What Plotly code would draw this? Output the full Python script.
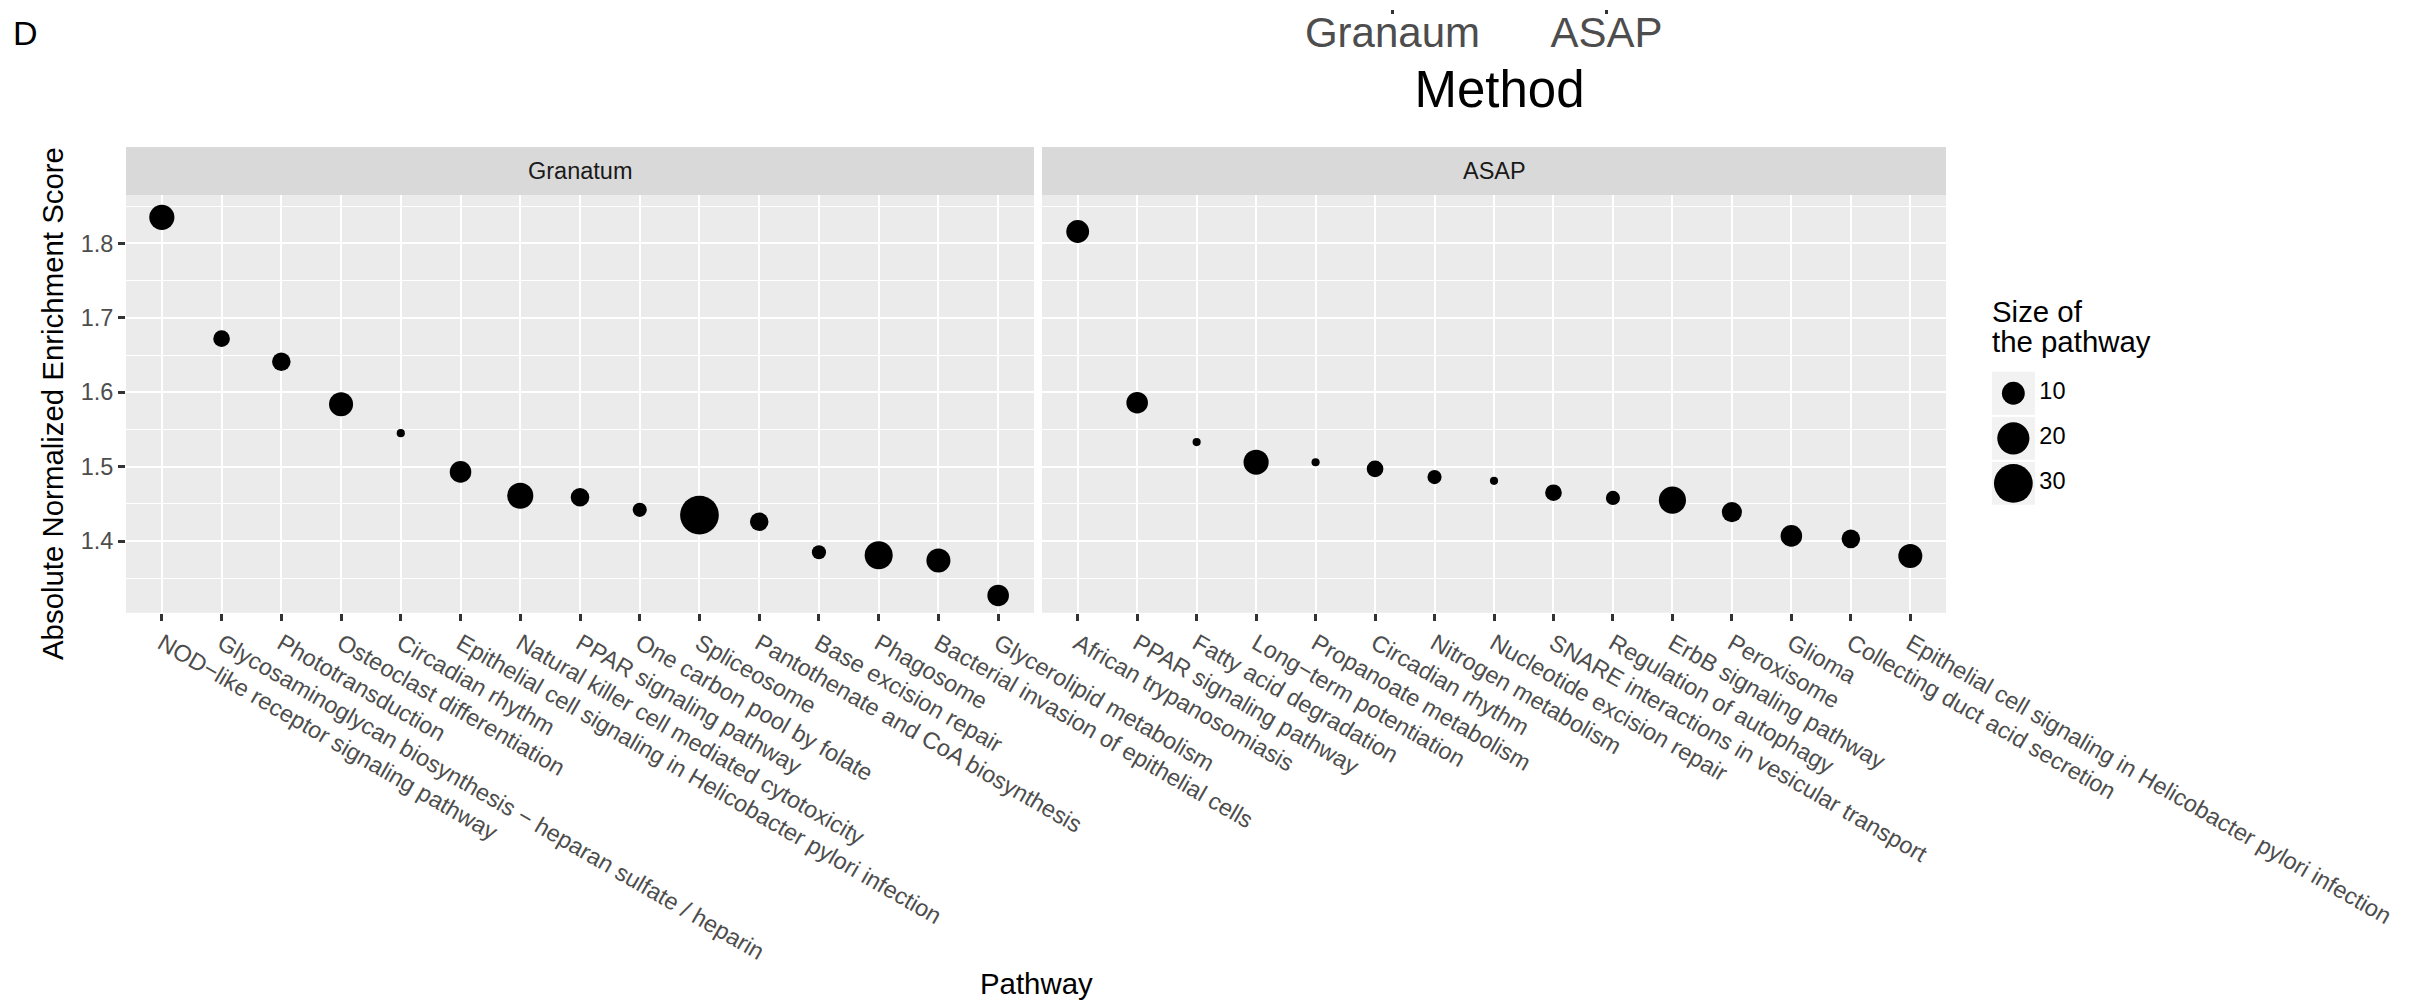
import math
import plotly.graph_objects as go

W, H = 2431, 1005
BODY = 8  # default page margin around the plot div
FW, FH = W - BODY, H - BODY

# ---------------- data ----------------
granatum_pathways = [
    "NOD\u2212like receptor signaling pathway",
    "Glycosaminoglycan biosynthesis \u2212 heparan sulfate / heparin",
    "Phototransduction",
    "Osteoclast differentiation",
    "Circadian rhythm",
    "Epithelial cell signaling in Helicobacter pylori infection",
    "Natural killer cell mediated cytotoxicity",
    "PPAR signaling pathway",
    "One carbon pool by folate",
    "Spliceosome",
    "Pantothenate and CoA biosynthesis",
    "Base excision repair",
    "Phagosome",
    "Bacterial invasion of epithelial cells",
    "Glycerolipid metabolism",
]
granatum_scores = [1.835, 1.672, 1.641, 1.584, 1.545, 1.493, 1.461, 1.459,
                   1.442, 1.435, 1.426, 1.385, 1.381, 1.374, 1.327]
granatum_sizes = [12, 6, 7, 11, 4, 9, 13, 7, 5, 30, 7, 5, 15, 11, 9]

asap_pathways = [
    "African trypanosomiasis",
    "PPAR signaling pathway ",
    "Fatty acid degradation",
    "Long\u2212term potentiation",
    "Propanoate metabolism",
    "Circadian rhythm ",
    "Nitrogen metabolism",
    "Nucleotide excision repair",
    "SNARE interactions in vesicular transport",
    "Regulation of autophagy",
    "ErbB signaling pathway",
    "Peroxisome",
    "Glioma",
    "Collecting duct acid secretion",
    "Epithelial cell signaling in Helicobacter pylori infection ",
]
asap_scores = [1.816, 1.586, 1.533, 1.506, 1.506, 1.497, 1.486, 1.481,
               1.465, 1.458, 1.455, 1.439, 1.407, 1.403, 1.380]
asap_sizes = [10, 9, 4, 12, 4, 6, 5, 4, 6, 5, 14, 8, 9, 7, 11]

panel_labels = ["Granatum", "ASAP"]
y_ticks = [1.4, 1.5, 1.6, 1.7, 1.8]
y_minor = [1.35, 1.45, 1.55, 1.65, 1.75, 1.85]
y_range = [1.3038, 1.865]
legend_breaks = [10, 20, 30]
method_labels = ["Granaum", "ASAP"]

# ------------- size scale (area-like, as in ggplot scale_size) -------------
all_sizes = granatum_sizes + asap_sizes
vmin, vmax = min(all_sizes), max(all_sizes)
PX_PER_PT = 2.15


def size_px(v):
    t = (v - vmin) / (vmax - vmin)
    t = min(max(t, 0.0), 1.0)
    s = 1 + 5 * math.sqrt(t)
    return PX_PER_PT * (s * 2.845 + 0.945)


def px(xp):
    return (xp - BODY) / FW


def py(yp):
    return 1 - (yp - BODY) / FH


FONT = "Liberation Sans, Arial, sans-serif"
TICK_C = "#4D4D4D"

panel_top, panel_bot = 195, 612.7
strip_top = 147
x1_dom = [px(126), px(1034)]
x2_dom = [px(1042), px(1946)]
y_dom = [py(panel_bot), py(panel_top)]
key_w = 43.3

fig = go.Figure()

mk = dict(color="black", opacity=1, line=dict(width=0))
fig.add_trace(go.Scatter(
    x=granatum_pathways, y=granatum_scores, mode="markers",
    marker=dict(mk, size=[size_px(v) for v in granatum_sizes]),
    xaxis="x", yaxis="y", showlegend=False, hoverinfo="x+y"))
fig.add_trace(go.Scatter(
    x=asap_pathways, y=asap_scores, mode="markers",
    marker=dict(mk, size=[size_px(v) for v in asap_sizes]),
    xaxis="x2", yaxis="y2", showlegend=False, hoverinfo="x+y"))

# Method axis remnant at the top
fig.add_trace(go.Scatter(
    x=method_labels, y=[0, 0], mode="markers", marker=dict(opacity=0),
    xaxis="x3", yaxis="y3", showlegend=False, hoverinfo="skip"))

# custom size legend
leg_idx = list(range(len(legend_breaks)))
fig.add_trace(go.Scatter(
    x=[0.5] * len(legend_breaks), y=leg_idx, mode="markers",
    marker=dict(mk, size=[size_px(v) for v in legend_breaks]),
    xaxis="x4", yaxis="y4", showlegend=False, hoverinfo="skip", cliponaxis=False))
fig.add_trace(go.Scatter(
    x=[1.1] * len(legend_breaks), y=leg_idx, mode="text",
    text=[str(v) for v in legend_breaks], textposition="middle right",
    textfont=dict(family=FONT, size=23.5, color="#000000"),
    xaxis="x4", yaxis="y4", showlegend=False, hoverinfo="skip", cliponaxis=False))

xcommon = dict(
    type="category", showgrid=True, gridcolor="white", gridwidth=2.3,
    ticks="outside", ticklen=7, tickwidth=2.5, tickcolor="#333333",
    tickangle=30, tickfont=dict(family=FONT, size=23.5, color=TICK_C),
    showline=False, zeroline=False, range=[-0.6, 14.6], automargin=False,
)
ycommon = dict(
    range=y_range, tickvals=y_ticks, ticktext=[f"{v:.1f}" for v in y_ticks],
    showgrid=True, gridcolor="white", gridwidth=2.3, zeroline=False,
    showline=False, domain=y_dom, automargin=False,
    minor=dict(tickvals=y_minor, showgrid=True, gridcolor="white",
               gridwidth=1.15, ticks=""),
)

fig.update_layout(
    template="none",
    width=FW, height=FH, autosize=False,
    margin=dict(l=0, r=0, t=0, b=0, pad=0),
    paper_bgcolor="white", plot_bgcolor="rgba(0,0,0,0)",
    font=dict(family=FONT, color="black"),
    xaxis=dict(xcommon, domain=x1_dom, anchor="y",
               categoryorder="array", categoryarray=granatum_pathways),
    xaxis2=dict(xcommon, domain=x2_dom, anchor="y2",
                categoryorder="array", categoryarray=asap_pathways),
    yaxis=dict(ycommon, anchor="x", ticks="outside", ticklen=7, tickwidth=2.5,
               tickcolor="#333333",
               tickfont=dict(family=FONT, size=23.5, color=TICK_C)),
    yaxis2=dict(ycommon, anchor="x2", showticklabels=False, ticks=""),
    xaxis3=dict(type="category", domain=[px(1264), px(1735)], anchor="y3",
                range=[-0.6, 1.6], showgrid=False, zeroline=False, showline=False,
                automargin=False,
                ticks="outside", ticklen=4, tickwidth=2.5, tickcolor="#333333",
                ticklabelstandoff=-17,
                tickfont=dict(family=FONT, size=42, color=TICK_C),
                title=dict(text="Method", font=dict(family=FONT, size=51, color="black"),
                           standoff=15)),
    yaxis3=dict(domain=[0.999, 1.0], visible=False, anchor="x3", range=[-1, 1]),
    xaxis4=dict(domain=[px(1991.7), px(1991.7 + 2 * key_w)], anchor="y4",
                range=[0, 2], visible=False),
    yaxis4=dict(domain=[py(506), py(370.7)], anchor="x4", range=[2.5, -0.5],
                visible=False),
)

shapes = []
for xr, yr in (("x", "y"), ("x2", "y2")):
    shapes.append(dict(type="rect", xref=f"{xr} domain", yref=f"{yr} domain",
                       x0=0, x1=1, y0=0, y1=1, fillcolor="#EBEBEB",
                       line=dict(width=0), layer="below"))
    shapes.append(dict(type="rect", xref=f"{xr} domain", yref="paper",
                       x0=0, x1=1, y0=py(panel_top), y1=py(strip_top),
                       fillcolor="#D9D9D9", line=dict(width=0), layer="below"))
for i in leg_idx:
    shapes.append(dict(type="rect", xref="x4", yref="y4", x0=0, x1=1,
                       y0=i - 0.475, y1=i + 0.475, fillcolor="#F2F2F2",
                       line=dict(width=0), layer="below"))
fig.update_layout(shapes=shapes)

ann = []
for xr, lab in zip(("x", "x2"), panel_labels):
    ann.append(dict(text=lab, xref=f"{xr} domain", yref="paper", x=0.5,
                    y=(py(panel_top) + py(strip_top)) / 2, showarrow=False,
                    font=dict(family=FONT, size=23.5, color="#1A1A1A"),
                    xanchor="center", yanchor="middle"))
ann.append(dict(text="Absolute Normalized Enrichment Score", xref="paper",
                yref="paper", x=px(52), y=py(404), textangle=-90, showarrow=False,
                font=dict(family=FONT, size=29.4, color="black"),
                xanchor="center", yanchor="middle"))
ann.append(dict(text="Pathway", xref="paper", yref="paper", x=px(1036),
                y=py(983), showarrow=False,
                font=dict(family=FONT, size=29.4, color="black"),
                xanchor="center", yanchor="middle"))
ann.append(dict(text="D", xref="paper", yref="paper", x=px(11), y=py(33),
                showarrow=False, font=dict(family=FONT, size=34, color="black"),
                xanchor="left", yanchor="middle"))
ann.append(dict(text="Size of", xref="paper", yref="paper", x=px(1990),
                y=py(311), showarrow=False,
                font=dict(family=FONT, size=29.4, color="black"),
                xanchor="left", yanchor="middle"))
ann.append(dict(text="the pathway", xref="paper", yref="paper", x=px(1990),
                y=py(342), showarrow=False,
                font=dict(family=FONT, size=29.4, color="black"),
                xanchor="left", yanchor="middle"))
fig.update_layout(annotations=ann)

fig.write_html("out.html")
